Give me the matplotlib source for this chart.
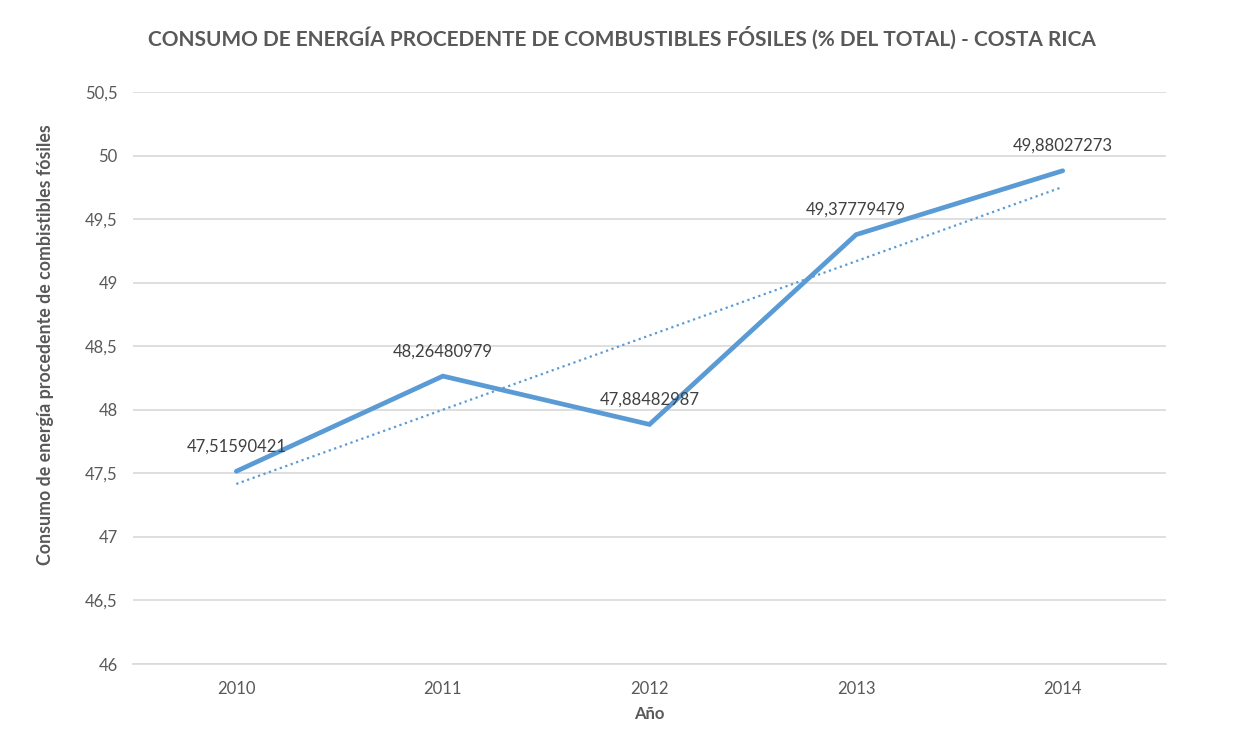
import numpy as np
import matplotlib.pyplot as plt
from matplotlib.ticker import FuncFormatter

# data
years = ['2010', '2011', '2012', '2013', '2014']
consumo = [47.51590421, 48.26480979, 47.88482987, 49.37779479, 49.88027273]
labels = ['47,51590421', '48,26480979', '47,88482987', '49,37779479', '49,88027273']

azul = '#5b9bd5'
gris = '#595959'

plt.rcParams['font.family'] = ['Lato', 'DejaVu Sans']

fig = plt.figure(figsize=(12.44, 7.40), dpi=100)
ax = fig.add_axes([0.1069, 0.1027, 0.8304, 0.7730])

x = np.arange(len(years))
ax.plot(x, consumo, color=azul, lw=3.4, solid_capstyle='round', solid_joinstyle='miter', zorder=3)

# linear trendline (same as excel's)
m, b = np.polyfit(x, consumo, 1)
ax.plot(x, m * x + b, color=azul, lw=1.6, linestyle=(0, (1, 1.6)), zorder=2)

for xi, yi, lab in zip(x, consumo, labels):
    ax.annotate(lab, (xi, yi), xytext=(0, 12), textcoords='offset points',
                ha='center', va='bottom', fontsize=12, color='#404040')

ax.set_xlim(-0.5, len(years) - 0.5)
ax.set_ylim(46, 50.5)
ax.set_yticks(np.arange(46, 50.51, 0.5))
ax.yaxis.set_major_formatter(FuncFormatter(lambda v, p: ('%g' % v).replace('.', ',')))
ax.set_xticks(x)
ax.set_xticklabels(years)

ax.grid(axis='y', color='#d9d9d9', lw=1.2)
ax.set_axisbelow(True)
for s in ['top', 'right', 'left']:
    ax.spines[s].set_visible(False)
ax.spines['bottom'].set_color('#d9d9d9')
ax.spines['bottom'].set_linewidth(1.2)
ax.tick_params(length=0, labelsize=12, colors=gris, pad=12)
ax.tick_params(axis='y', pad=11)

ax.set_xlabel('Año', fontsize=12, fontweight='bold', color=gris, labelpad=7)
ax.set_ylabel('Consumo de energía procedente de combistibles fósiles', fontsize=12.8,
              fontweight='bold', color=gris)
ax.yaxis.set_label_coords(-0.076, 0.558)
fig.suptitle('CONSUMO DE ENERGÍA PROCEDENTE DE COMBUSTIBLES FÓSILES (% DEL TOTAL) - COSTA RICA',
             x=0.5, y=0.965, fontsize=15, fontweight='bold', color=gris)

fig.savefig('out.png', dpi=100)
